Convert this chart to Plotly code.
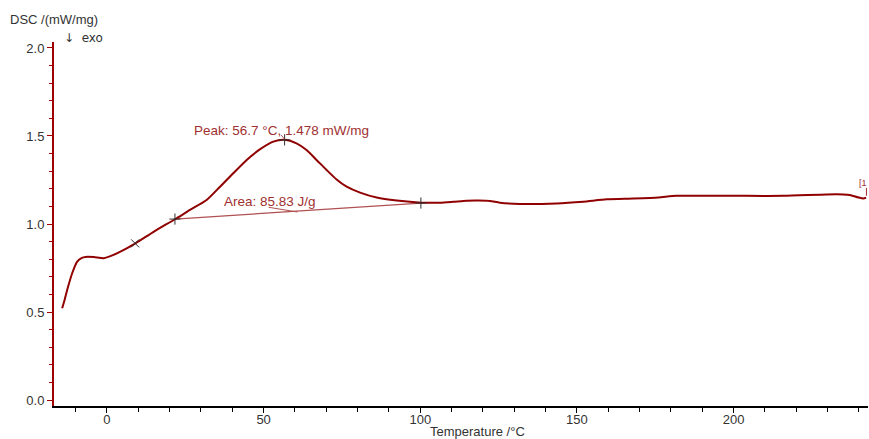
import plotly.graph_objects as go

temp = [-14.3, -13.5, -12.7, -11.1, -9.5, -8.0, -6.8, -4.2, -1.0, 1.5, 4.3, 9.1, 15.0, 21.7, 26.5,
        31.8, 36.1, 40.3, 44.6, 48.8, 53.1, 56.7, 60.5, 63.7, 66.9, 70.1, 73.3, 76.5, 80.8,
        86.1, 92.5, 100.4, 106.3, 110.5, 114.8, 118.5, 122.2,
        125.4, 131.8, 143.5, 152.0, 159.5, 168.0, 176.0, 181.8, 199.9, 215.9, 229.7, 235.0,
        237.1, 239.8, 241.4, 242.3]
dsc = [0.521, 0.57, 0.625, 0.72, 0.786, 0.808, 0.813, 0.812, 0.806, 0.82, 0.843, 0.89, 0.957, 1.027, 1.08,
       1.136, 1.212, 1.288, 1.364, 1.424, 1.468, 1.478, 1.458, 1.42, 1.364, 1.307, 1.253, 1.212, 1.178,
       1.15, 1.133, 1.121, 1.121, 1.126, 1.132, 1.133, 1.131,
       1.121, 1.114, 1.117, 1.127, 1.14, 1.145, 1.151, 1.16, 1.16, 1.16, 1.168, 1.168,
       1.165, 1.151, 1.145, 1.15]

# integration baseline
base_t = [21.7, 100.2]
base_y = [1.028, 1.119]

# markers
plus_t = [21.7, 56.7, 100.2]
plus_y = [1.028, 1.478, 1.119]
x_t = [9.0]
x_y = [0.89]

peak_text = "Peak: 56.7 °C, 1.478 mW/mg"
area_text = "Area: 85.83 J/g"

curve_col = "#900000"
text_col = "#a03030"
FONT = "Liberation Sans, Arial"

fig = go.Figure()
fig.add_trace(go.Scatter(x=base_t, y=base_y, mode="lines",
                         line=dict(color="#b05050", width=1.2), hoverinfo="skip"))
fig.add_trace(go.Scatter(x=temp, y=dsc, mode="lines",
                         line=dict(color=curve_col, width=2, shape="spline", smoothing=0.6)))
fig.add_trace(go.Scatter(x=plus_t, y=plus_y, mode="markers",
                         marker=dict(symbol="cross-thin", size=8, line=dict(color="#303030", width=1))))
fig.add_trace(go.Scatter(x=x_t, y=x_y, mode="markers",
                         marker=dict(symbol="x-thin", size=8, line=dict(color="#303030", width=1))))
# area leader
fig.add_trace(go.Scatter(x=[51.6, 60.8], y=[1.095, 1.068], mode="lines",
                         line=dict(color="#b05050", width=1), hoverinfo="skip"))
# peak leader
fig.add_trace(go.Scatter(x=[55.6, 56.7], y=[1.505, 1.482], mode="lines",
                         line=dict(color="#b05050", width=1), hoverinfo="skip"))

fig.add_annotation(x=55.6, y=1.53, text=peak_text, showarrow=False,
                   xanchor="center", yanchor="middle",
                   font=dict(family=FONT, size=13.5, color=text_col))
fig.add_annotation(x=52.0, y=1.13, text=area_text, showarrow=False,
                   xanchor="center", yanchor="middle",
                   font=dict(family=FONT, size=13.5, color=text_col))
fig.add_annotation(x=241.2, y=1.235, text="[1", showarrow=False,
                   xanchor="center", yanchor="middle",
                   font=dict(family=FONT, size=9, color=text_col))
fig.add_trace(go.Scatter(x=[242.4, 242.4], y=[1.205, 1.16], mode="lines",
                         line=dict(color=text_col, width=1), hoverinfo="skip"))

fig.add_annotation(xref="paper", yref="paper", x=-0.057, y=1.0, xanchor="left", yanchor="bottom",
                   yshift=13, text="DSC /(mW/mg)", showarrow=False,
                   font=dict(family=FONT, size=13, color="#333333"))
fig.add_annotation(xref="paper", yref="paper", x=0.0095, y=1.0, xanchor="left", yanchor="bottom",
                   yshift=-5, text="↓  exo", showarrow=False,
                   font=dict(family="DejaVu Sans", size=12, color="#333333"))
fig.add_annotation(xref="paper", yref="paper", x=0.52, y=0, xanchor="center", yanchor="middle",
                   yshift=-25, text="Temperature /°C", showarrow=False,
                   font=dict(family=FONT, size=13, color="#333333"))

fig.update_layout(
    width=869, height=439,
    margin=dict(l=54, r=1, t=42, b=33),
    paper_bgcolor="white", plot_bgcolor="white",
    showlegend=False,
    font=dict(family=FONT, size=13, color="#333333"),
)
fig.update_xaxes(range=[-16.9, 242.9], showgrid=False, zeroline=False,
                 showline=True, linecolor="black", linewidth=1.5,
                 ticks="outside", ticklen=5, tickcolor="black", dtick=50, tick0=0,
                 ticklabelstandoff=-4,
                 minor=dict(dtick=10, ticks="outside", ticklen=4, tickcolor="black"))
fig.update_yaxes(range=[-0.034, 2.034], showgrid=False, zeroline=False,
                 showline=True, linecolor="#a00000", linewidth=2,
                 ticks="outside", ticklen=5, tickcolor="#a00000", dtick=0.5, tick0=0,
                 tickformat=".1f",
                 minor=dict(dtick=0.1, ticks="outside", ticklen=3, tickcolor="#a00000"))

fig.write_html("out.html")
